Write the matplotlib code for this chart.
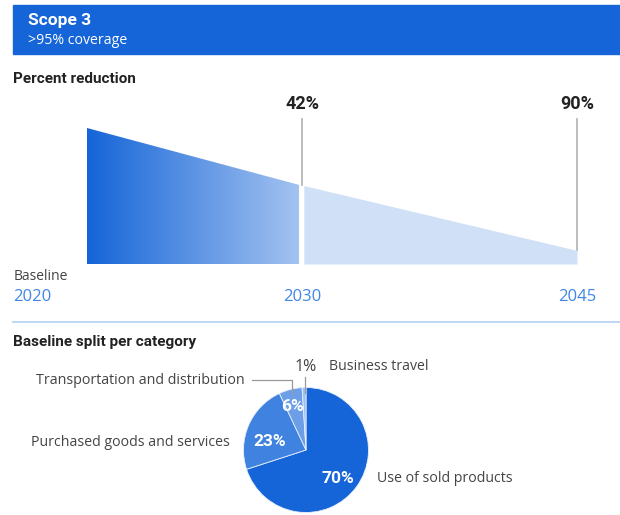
import matplotlib
matplotlib.use("Agg")
import matplotlib.pyplot as plt
import numpy as np
from matplotlib.patches import Rectangle, Polygon
from matplotlib.colors import LinearSegmentedColormap
from matplotlib.lines import Line2D

# ---- data ----
years = [2020, 2030, 2045]
reduction = [0, 42, 90]            # percent reduction vs. baseline
reduction_labels = ["", "42%", "90%"]
categories = ["Use of sold products", "Purchased goods and services",
              "Transportation and distribution", "Business travel"]
shares = [70, 23, 6, 1]
share_labels = ["70%", "23%", "6%", "1%"]

W, H = 620, 515
plt.rcParams['font.family'] = ['Open Sans', 'DejaVu Sans']
BOLD = ['Roboto', 'DejaVu Sans']

BLUE = "#1565d8"
YEAR_BLUE = "#3f86e6"
DARK = "#222222"
GREY = "#444444"

fig = plt.figure(figsize=(W / 100, H / 100), dpi=100)


def fx(px):
    return px / W


def fy(py):
    return 1 - py / H


def ftext(px, py, s, **kw):
    fig.text(fx(px), fy(py), s, va='center', **kw)


# ---- header band ----
fig.patches.append(Rectangle((fx(13), fy(54)), 1, (54 - 5) / H,
                             transform=fig.transFigure, color=BLUE, zorder=0))
ftext(28, 21, "Scope 3", color='white', fontsize=12.5, fontweight='bold',
      family=BOLD)
ftext(28, 41, ">95% coverage", color='white', fontsize=10.2)

ftext(13, 79, "Percent reduction", color=DARK, fontsize=11,
      fontweight='bold', family=BOLD)

# ---- reduction wedge ----
# axes spans the wedge box: x 87..577 px, y 128..264 px
ax = fig.add_axes([fx(87), fy(264), fx(577 - 87), (264 - 128) / H])
# years sit along the axis with a piecewise mapping, as in the drawing
anchor_pos = [0.0, 215 / 490, 1.0]


def fwd(x):
    return np.interp(x, years, anchor_pos)


def inv(x):
    return np.interp(x, anchor_pos, years)


ax.set_xscale('function', functions=(fwd, inv))
ax.set_xlim(years[0], years[-1])
ax.set_ylim(0, 100)
ax.axis('off')

remaining = [100 - r for r in reduction]
gap = 0.1  # years, white gap at 2030

# gradient part 2020 -> 2030
poly1 = Polygon([(years[0], 0), (years[0], remaining[0]),
                 (years[1] - gap, remaining[1]), (years[1] - gap, 0)],
                closed=True, facecolor='none', edgecolor='none')
ax.add_patch(poly1)
grad = LinearSegmentedColormap.from_list("g", [BLUE, "#a4c3f0"])
gx = np.linspace(0, 1, 256).reshape(1, -1)
im = ax.imshow(gx, cmap=grad, aspect='auto',
               extent=[years[0], years[1] - gap, 0, 100], zorder=1)
im.set_clip_path(poly1)

# flat part 2030 -> 2045
xs = np.linspace(years[1] + gap, years[2], 50)
ys = np.interp(xs, years[1:], remaining[1:])
ax.fill_between(xs, 0, ys, color="#d0e0f6", lw=0, zorder=1)
ax.set_xlim(years[0], years[-1])
ax.set_ylim(0, 100)

# marker lines and labels
for yr, rem, lab in zip(years[1:], remaining[1:], reduction_labels[1:]):
    ax.plot([yr, yr], [rem, 106.5], color="#b0b0b0", lw=1.2,
            clip_on=False, zorder=2)
    ax.text(yr, 118, lab, ha='center', va='center', fontsize=13,
            fontweight='bold', color=DARK, clip_on=False, family=BOLD)

# year labels
ftext(14, 277, "Baseline", color=GREY, fontsize=10)
ftext(13, 297, str(years[0]), color=YEAR_BLUE, fontsize=12)
for yr in years[1:]:
    ax.text(yr, -(297 - 264) * 100 / 136, str(yr), ha='center', va='center',
            fontsize=12, color=YEAR_BLUE, clip_on=False)

# separator
fig.lines.append(Line2D([fx(13), 1], [fy(322), fy(322)],
                        transform=fig.transFigure, color="#b4cff2", lw=1.2))

ftext(13, 342, "Baseline split per category", color=DARK, fontsize=11,
      fontweight='bold', family=BOLD)

# ---- pie ----
cx, cy, r_px = 306, 450, 62.5
S = r_px * 2.5
pax = fig.add_axes([fx(cx - S / 2), fy(cy + S / 2), S / W, S / H])
pie_colors = [BLUE, "#3f82e0", "#6c9fe8", "#9dc0f2"]
wedges, _ = pax.pie(shares, colors=pie_colors, startangle=90,
                    counterclock=False,
                    wedgeprops=dict(lw=0.6, edgecolor="#e8f0fc"))

label_r = [0.68, 0.595, 0.73]
label_dang = [-5.4, 10.8, 2.3]
for w, lab, rr, da in zip(wedges[:3], share_labels[:3], label_r, label_dang):
    ang = np.deg2rad((w.theta1 + w.theta2) / 2 + da)
    pax.text(rr * np.cos(ang), rr * np.sin(ang), lab, ha='center',
             va='center', color='white', fontsize=12.5, fontweight='bold',
             family=BOLD)

ftext(306, 367, share_labels[3], color=GREY, fontsize=11.5, ha='center')
ftext(329, 367, categories[3], color=GREY, fontsize=10.2)
ftext(245, 380, categories[2], color=GREY, fontsize=10.3, ha='right')
ftext(230, 442, categories[1], color=GREY, fontsize=10.2, ha='right')
ftext(377, 478, categories[0], color=GREY, fontsize=10.2)

# leader lines
fig.lines.append(Line2D([fx(252), fx(292), fx(292)],
                        [fy(380), fy(380), fy(394)],
                        transform=fig.transFigure, color="#999999", lw=0.9))
fig.lines.append(Line2D([fx(305), fx(305)], [fy(377), fy(393)],
                        transform=fig.transFigure, color="#999999", lw=0.9))

fig.savefig("out.png", dpi=100)
